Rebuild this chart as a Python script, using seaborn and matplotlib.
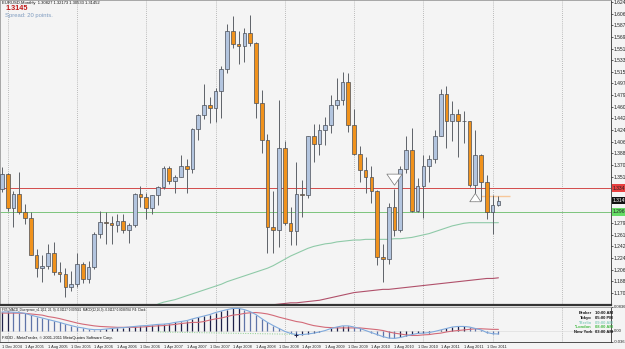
import numpy as np
import pandas as pd
import seaborn as sns
import matplotlib
matplotlib.use('Agg')
import matplotlib.pyplot as plt

# EURUSD monthly bars, Dec 2004 .. Feb 2012 (87 bars)
opens = [1.3320, 1.3554, 1.3036, 1.3250, 1.2960, 1.2866, 1.2300, 1.2100, 1.2127, 1.2334,
         1.2027, 1.1992, 1.1790, 1.1840, 1.2155, 1.1925, 1.2115, 1.2625, 1.2810, 1.2790,
         1.2770, 1.2820, 1.2680, 1.2760, 1.3250, 1.3200, 1.3030, 1.3225, 1.3355, 1.3650,
         1.3450, 1.3520, 1.3685, 1.3640, 1.4260, 1.4480, 1.4630, 1.4590, 1.4860, 1.5190,
         1.5790, 1.5590, 1.5550, 1.5760, 1.5610, 1.4670, 1.4090, 1.2730, 1.2690, 1.3970,
         1.2800, 1.2670, 1.3250, 1.3230, 1.4150, 1.4030, 1.4240, 1.4330, 1.4640, 1.4720,
         1.5000, 1.4320, 1.3865, 1.3625, 1.3510, 1.3290, 1.2270, 1.2230, 1.3050, 1.2680,
         1.3630, 1.3930, 1.2990, 1.3380, 1.3690, 1.3800, 1.4160, 1.4810, 1.4390, 1.4500,
         1.4380, 1.4390, 1.3390, 1.3850, 1.3440, 1.2960, 1.3083]
highs = [1.3667, 1.3580, 1.3290, 1.3585, 1.3090, 1.2960, 1.2390, 1.2300, 1.2475, 1.2500,
         1.2190, 1.2100, 1.2040, 1.2325, 1.2180, 1.2210, 1.2650, 1.2980, 1.2970, 1.2900,
         1.2940, 1.2930, 1.2790, 1.3270, 1.3366, 1.3270, 1.3230, 1.3370, 1.3680, 1.3680,
         1.3550, 1.3850, 1.3800, 1.4280, 1.4500, 1.4965, 1.4760, 1.4900, 1.5240, 1.5905,
         1.6020, 1.5790, 1.5840, 1.6040, 1.5620, 1.4870, 1.4190, 1.3300, 1.4720, 1.4070,
         1.3040, 1.3740, 1.3460, 1.4160, 1.4340, 1.4340, 1.4445, 1.4790, 1.5060, 1.5145,
         1.5140, 1.4580, 1.3990, 1.3820, 1.3690, 1.3310, 1.2460, 1.3110, 1.3330, 1.3680,
         1.4160, 1.4280, 1.3500, 1.3860, 1.3860, 1.4250, 1.4880, 1.4940, 1.4700, 1.4580,
         1.4540, 1.4390, 1.4250, 1.3870, 1.3550, 1.3235, 1.3217]
lows = [1.3280, 1.2990, 1.2730, 1.2930, 1.2780, 1.2295, 1.1950, 1.1870, 1.2080, 1.1990,
        1.1870, 1.1640, 1.1730, 1.1800, 1.1860, 1.1860, 1.2080, 1.2560, 1.2460, 1.2460,
        1.2660, 1.2640, 1.2480, 1.2740, 1.3040, 1.2865, 1.2930, 1.3070, 1.3330, 1.3410,
        1.3270, 1.3510, 1.3260, 1.3580, 1.4090, 1.4420, 1.4350, 1.4370, 1.4440, 1.5140,
        1.5520, 1.5280, 1.5300, 1.5550, 1.4430, 1.3890, 1.2330, 1.2330, 1.2420, 1.2770,
        1.2455, 1.2455, 1.2890, 1.3190, 1.3740, 1.3850, 1.4010, 1.4200, 1.4580, 1.4630,
        1.4220, 1.3860, 1.3440, 1.3270, 1.3110, 1.2140, 1.1875, 1.2160, 1.2590, 1.2650,
        1.3580, 1.2970, 1.2960, 1.2870, 1.3430, 1.3730, 1.4150, 1.3970, 1.4080, 1.3830,
        1.4050, 1.3360, 1.3145, 1.3140, 1.2860, 1.2625, 1.3053]
closes = [1.3554, 1.3036, 1.3250, 1.2960, 1.2866, 1.2300, 1.2100, 1.2127, 1.2334, 1.2027,
          1.1992, 1.1790, 1.1840, 1.2155, 1.1925, 1.2115, 1.2625, 1.2810, 1.2790, 1.2770,
          1.2820, 1.2680, 1.2760, 1.3250, 1.3200, 1.3030, 1.3225, 1.3355, 1.3650, 1.3450,
          1.3520, 1.3685, 1.3640, 1.4260, 1.4480, 1.4630, 1.4590, 1.4860, 1.5190, 1.5790,
          1.5590, 1.5550, 1.5760, 1.5610, 1.4670, 1.4090, 1.2730, 1.2690, 1.3970, 1.2800,
          1.2670, 1.3250, 1.3230, 1.4150, 1.4030, 1.4240, 1.4330, 1.4640, 1.4720, 1.5000,
          1.4320, 1.3865, 1.3625, 1.3510, 1.3290, 1.2270, 1.2230, 1.3050, 1.2680, 1.3630,
          1.3930, 1.2990, 1.3380, 1.3690, 1.3800, 1.4160, 1.4810, 1.4390, 1.4500, 1.4380,
          1.4390, 1.3390, 1.3850, 1.3440, 1.2960, 1.3083, 1.3145]

nan = np.nan
# moving averages as seen on the chart (NaN = not visible)
ma_green = [nan] * 27 + [
    1.153, 1.156, 1.158, 1.160, 1.163, 1.166, 1.169, 1.172, 1.175, 1.178,
    1.181, 1.184, 1.188, 1.191, 1.194, 1.197, 1.200, 1.203, 1.206, 1.209,
    1.213, 1.218, 1.223, 1.228, 1.232, 1.236, 1.240, 1.243, 1.245, 1.247,
    1.248, 1.250, 1.251, 1.252, 1.253, 1.253, 1.254, 1.254, 1.254, 1.254,
    1.254, 1.255, 1.255, 1.256, 1.257, 1.259, 1.261, 1.263, 1.266, 1.269,
    1.272, 1.275, 1.277, 1.279, 1.280, 1.280, 1.280, 1.280, 1.280, 1.280]
ma_red = [nan] * 45 + [
    1.149, 1.151, 1.152, 1.153, 1.154, 1.155, 1.155, 1.156, 1.157, 1.158,
    1.159, 1.161, 1.163, 1.165, 1.167, 1.169, 1.171, 1.172, 1.173, 1.174,
    1.175, 1.176, 1.176, 1.177, 1.178, 1.179, 1.180, 1.181, 1.182, 1.183,
    1.184, 1.185, 1.186, 1.187, 1.188, 1.189, 1.190, 1.191, 1.192, 1.193,
    1.193, 1.194]

macd = [0.065, 0.065, 0.064, 0.063, 0.060, 0.054, 0.049, 0.044, 0.039, 0.034,
        0.029, 0.023, 0.018, 0.013, 0.010, 0.006, 0.004, 0.004, 0.006, 0.008,
        0.010, 0.011, 0.013, 0.015, 0.017, 0.018, 0.020, 0.022, 0.023, 0.025,
        0.029, 0.032, 0.035, 0.041, 0.046, 0.051, 0.056, 0.063, 0.068, 0.073,
        0.077, 0.077, 0.073, 0.066, 0.056, 0.042, 0.029, 0.018, 0.008, -0.002,
        -0.009, -0.013, -0.013, -0.011, -0.008, -0.004, 0.001, 0.008, 0.013, 0.017,
        0.017, 0.013, 0.008, 0.001, -0.006, -0.013, -0.020, -0.025, -0.026, -0.023,
        -0.018, -0.013, -0.009, -0.008, -0.006, -0.002, 0.003, 0.008, 0.013, 0.015,
        0.015, 0.013, 0.008, 0.003, -0.006, -0.010, -0.011]
signal = [0.061, 0.061, 0.061, 0.061, 0.060, 0.058, 0.056, 0.054, 0.049, 0.046,
          0.042, 0.037, 0.032, 0.027, 0.023, 0.020, 0.017, 0.015, 0.014, 0.013,
          0.012, 0.012, 0.012, 0.012, 0.013, 0.014, 0.016, 0.017, 0.018, 0.020,
          0.022, 0.025, 0.027, 0.029, 0.029, 0.032, 0.037, 0.041, 0.044, 0.049,
          0.054, 0.056, 0.060, 0.062, 0.063, 0.061, 0.058, 0.053, 0.047, 0.042,
          0.037, 0.032, 0.029, 0.023, 0.018, 0.015, 0.012, 0.011, 0.010, 0.010,
          0.010, 0.010, 0.010, 0.008, 0.006, 0.004, 0.001, -0.004, -0.008, -0.011,
          -0.014, -0.016, -0.016, -0.014, -0.013, -0.010, -0.008, -0.004, -0.001, 0.001,
          0.003, 0.005, 0.007, 0.007, 0.006, 0.005, 0.005]

date_labels = ['1 Dec 2004', '1 Apr 2005', '1 Aug 2005', '1 Dec 2005', '1 Apr 2006',
               '1 Aug 2006', '1 Dec 2006', '1 Apr 2007', '1 Aug 2007', '1 Dec 2007',
               '1 Apr 2008', '1 Aug 2008', '1 Dec 2008', '1 Apr 2009', '1 Aug 2009',
               '1 Dec 2009', '1 Apr 2010', '1 Aug 2010', '1 Dec 2010', '1 Apr 2011',
               '1 Aug 2011', '1 Dec 2011']
price_ticks = [1.62430, 1.60614, 1.58798, 1.56982, 1.55166, 1.53350, 1.51534, 1.49718,
               1.47902, 1.46086, 1.44270, 1.42454, 1.40638, 1.38822, 1.37006, 1.35190,
               1.27926, 1.26110, 1.24294, 1.22478, 1.20662, 1.18846, 1.17030]
red_level = 1.33410
green_level = 1.29670
bid = 1.31452

sns.set_style('white')
plt.rcParams['font.family'] = ['Liberation Sans Narrow', 'Liberation Sans', 'DejaVu Sans']

W, H = 625, 349
bg = '#f4f4f4'
fig = plt.figure(figsize=(W / 100, H / 100), dpi=100, facecolor=bg)
ax = fig.add_axes([0, 1 - 305 / H, 611 / W, 305 / H], facecolor=bg)
ax2 = fig.add_axes([0, 1 - 341.5 / H, 611 / W, 35 / H], facecolor=bg)

n = len(closes)
idx = np.arange(n)
o, h, l, c = map(np.array, (opens, highs, lows, closes))
up = c >= o

# year separators
years = np.arange(1, 100, 12)
for a in (ax, ax2):
    a.vlines(years, 0, 1, transform=a.get_xaxis_transform(), color='#a8a8a8',
             lw=0.6, linestyle=(0, (1, 1.5)), zorder=1)

# horizontal levels
ax.axhline(red_level, color='#d24a4a', lw=0.7, zorder=1.5)
ax.axhline(green_level, color='#7cc47c', lw=0.7, zorder=1.5)
ax.hlines(1.3222, 83, 88, color='#f7c79a', lw=1.0, zorder=1.5)

# moving averages
df_ma = pd.DataFrame({'i': idx, 'g': ma_green, 'r': ma_red})
sns.lineplot(data=df_ma, x='i', y='g', ax=ax, color='#8fcaa8', lw=0.8, zorder=2)
sns.lineplot(data=df_ma, x='i', y='r', ax=ax, color='#b0506a', lw=0.8, zorder=2)

# candles
ax.vlines(idx, l, h, color='#5e6268', lw=0.7, zorder=3)
body = np.maximum(np.abs(c - o), 0.0009)
ax.bar(idx, body, bottom=np.minimum(o, c), width=0.64,
       color=np.where(up, '#b3c5df', '#f0921c'), edgecolor='#4a4f58', linewidth=0.5, zorder=4)

# signal arrows
ax.annotate('', xy=(68, 1.3341), xytext=(68, 1.3585),
            arrowprops=dict(arrowstyle='simple,head_width=1.1,head_length=0.8,tail_width=0.45',
                            fc='white', ec='#777777', lw=0.5), zorder=5)
ax.annotate('', xy=(82, 1.3300), xytext=(82, 1.3150),
            arrowprops=dict(arrowstyle='simple,head_width=0.8,head_length=0.6,tail_width=0.35',
                            fc='white', ec='#777777', lw=0.5), zorder=5)

xlim = (-0.33, 105.5)
ax.set_xlim(*xlim)
ax.set_ylim(1.1516, 1.6274)
ax.set_xticks([])
ax.set_ylabel('')
ax.set_xlabel('')
ax.yaxis.tick_right()
ax.set_yticks(price_ticks)
ax.set_yticklabels([f'{v:.5f}' for v in price_ticks])
ax.tick_params(axis='y', labelsize=3.6, length=1.5, width=0.5, pad=0.5, colors='#222222')

ytr = ax.get_yaxis_transform()
for val, fc, tc in ((red_level, '#e84040', '#222222'), (bid, '#111111', 'white'),
                    (green_level, '#66dd66', '#222222')):
    ax.text(1.003, val, f'{val:.5f}', transform=ytr, fontsize=3.6, color=tc, va='center',
            ha='left', clip_on=False, zorder=6,
            bbox=dict(boxstyle='square,pad=0.25', fc=fc, ec='none'))

for s in ax.spines.values():
    s.set_linewidth(0.6)
    s.set_color('#9a9a9a')
ax.spines['right'].set_color('#333333')
ax.spines['bottom'].set_color('#333333')
ax.spines['bottom'].set_linewidth(1.6)

# MACD sub-window
m = np.array(macd)
rising = np.r_[True, np.diff(m) >= 0]
ax2.axhline(0, color='#d8d8d8', lw=0.4, zorder=1)
ax2.vlines(idx, 0, m, colors=np.where(rising, '#1e2148', '#5f74a8'), lw=0.9, zorder=2)
df_m = pd.DataFrame({'i': idx, 'macd': macd, 'sig': signal})
sns.lineplot(data=df_m, x='i', y='sig', ax=ax2, color='#d36a78', lw=0.8, zorder=3)
sns.lineplot(data=df_m, x='i', y='macd', ax=ax2, color='#7fa9dc', lw=0.8, zorder=4)
ax2.plot([27, 51], [-0.004, -0.012], color='#8ccf8c', lw=0.7, linestyle=(0, (1, 1.5)), zorder=3)
ax2.plot([51], [-0.016], marker='+', color='#1e2148', ms=3, mew=0.7, zorder=5)

ax2.set_xlim(*xlim)
ax2.set_ylim(-0.0368, 0.0837)
ax2.set_xlabel('')
ax2.set_ylabel('')
ax2.yaxis.tick_right()
ax2.set_yticks([0.0837, 0.0, -0.0368])
ax2.set_yticklabels(['0.08366', '0.00', '-0.03681'])
ax2.tick_params(axis='y', labelsize=3.0, length=1.5, width=0.5, pad=0.5, colors='#222222')
ax2.set_xticks(np.arange(0, 4 * len(date_labels), 4))
ax2.set_xticklabels(date_labels, ha='left')
ax2.tick_params(axis='x', labelsize=2.8, length=2, width=0.5, pad=0.8, colors='#222222')
for s in ax2.spines.values():
    s.set_linewidth(0.6)
    s.set_color('#9a9a9a')
ax2.spines['right'].set_color('#333333')
ax2.spines['bottom'].set_color('#333333')


# texts
def ftxt(x, y, s, **kw):
    fig.text(x / W, 1 - y / H, s, va='center', ha=kw.pop('ha', 'left'), **kw)


ftxt(2, 3, 'EURUSD,Monthly  1.30827 1.32173 1.30533 1.31452', fontsize=3.0, color='#111111')
ftxt(5, 8.5, '1.3145', fontsize=5.2, color='#c01818', fontweight='bold', family='Liberation Sans')
ftxt(5, 15.5, 'Spread: 20 points.', fontsize=4.2, color='#7f9cc0', family='Liberation Sans')
ftxt(2, 309.5, 'FX5_MACD_Divergence_v1.1(12, 26, 9) -0.01127 0.007641  MACD(12,26,9) -0.01127 0.0088784  P4: Clock',
     fontsize=2.2, color='#111111')
ftxt(2, 338.5, 'FXDD - MetaTrader, \u00a9 2001-2011 MetaQuotes Software Corp.', fontsize=2.9, color='#111111')

clock = [('Broker', '10:00 AM', '#111111'), ('Tokyo', '05:00 PM', '#111111'),
         ('*Berlin', '09:00 AM', '#8fd0c0'), ('*London', '08:00 AM', '#44bb44'),
         ('New York', '03:00 AM', '#111111')]
for k, (city, tm, col) in enumerate(clock):
    yy = 313 + 4.8 * k
    ftxt(592, yy, city, fontsize=3.0, color=col, ha='right', fontweight='bold')
    ftxt(595, yy, tm, fontsize=3.0, color=col, fontweight='bold')

fig.savefig('out.png', dpi=100, facecolor=bg)
